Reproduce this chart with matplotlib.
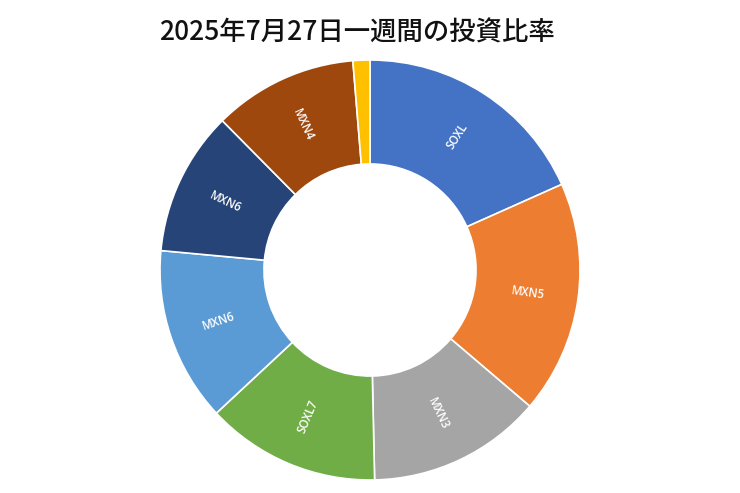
import numpy as np
import matplotlib
matplotlib.use("Agg")
import matplotlib.pyplot as plt

plt.rcParams['font.family'] = ['Noto Sans CJK JP', 'DejaVu Sans']

# 投資比率 (%), clockwise from top
labels = ['SOXL', 'MXN5', 'MXN3', 'SOXL7', 'MXN6', 'MXN6', 'MXN4', '']
values = [18.3, 17.9, 13.4, 13.4, 13.4, 11.1, 11.1, 1.3]
colors = ['#4472C4', '#ED7D31', '#A5A5A5', '#70AD47', '#5B9BD5',
          '#264478', '#9E480E', '#FFC000']
title = '2025年7月27日一週間の投資比率'

fig = plt.figure(figsize=(7.4, 4.93), dpi=100)
ax = fig.add_axes([160/740, 13/493, 420/740, 420/493])

wedges, _ = ax.pie(values, colors=colors, startangle=90, counterclock=False,
                   radius=1.0,
                   wedgeprops=dict(width=0.495, edgecolor='white', linewidth=1.2))
ax.set_xlim(-1, 1)
ax.set_ylim(-1, 1)
ax.set_aspect('equal')
ax.axis('off')

# labels inside the ring, along the radius (like Excel)
for w, lab in zip(wedges, labels):
    if not lab:
        continue
    ang = (w.theta1 + w.theta2) / 2.0
    r = 0.76
    x = r * np.cos(np.deg2rad(ang))
    y = r * np.sin(np.deg2rad(ang))
    rot = ang
    while rot > 90:
        rot -= 180
    while rot < -90:
        rot += 180
    ax.text(x, y, lab, rotation=rot, ha='center', va='center',
            rotation_mode='anchor', color='white', fontsize=8.3,
            family=['Open Sans', 'DejaVu Sans'], fontweight='semibold')

fig.text(357/740, 1 - 33/493, title, ha='center', va='center',
         fontsize=19, color='#111111', fontweight='medium')

fig.savefig('out.png', dpi=100)
